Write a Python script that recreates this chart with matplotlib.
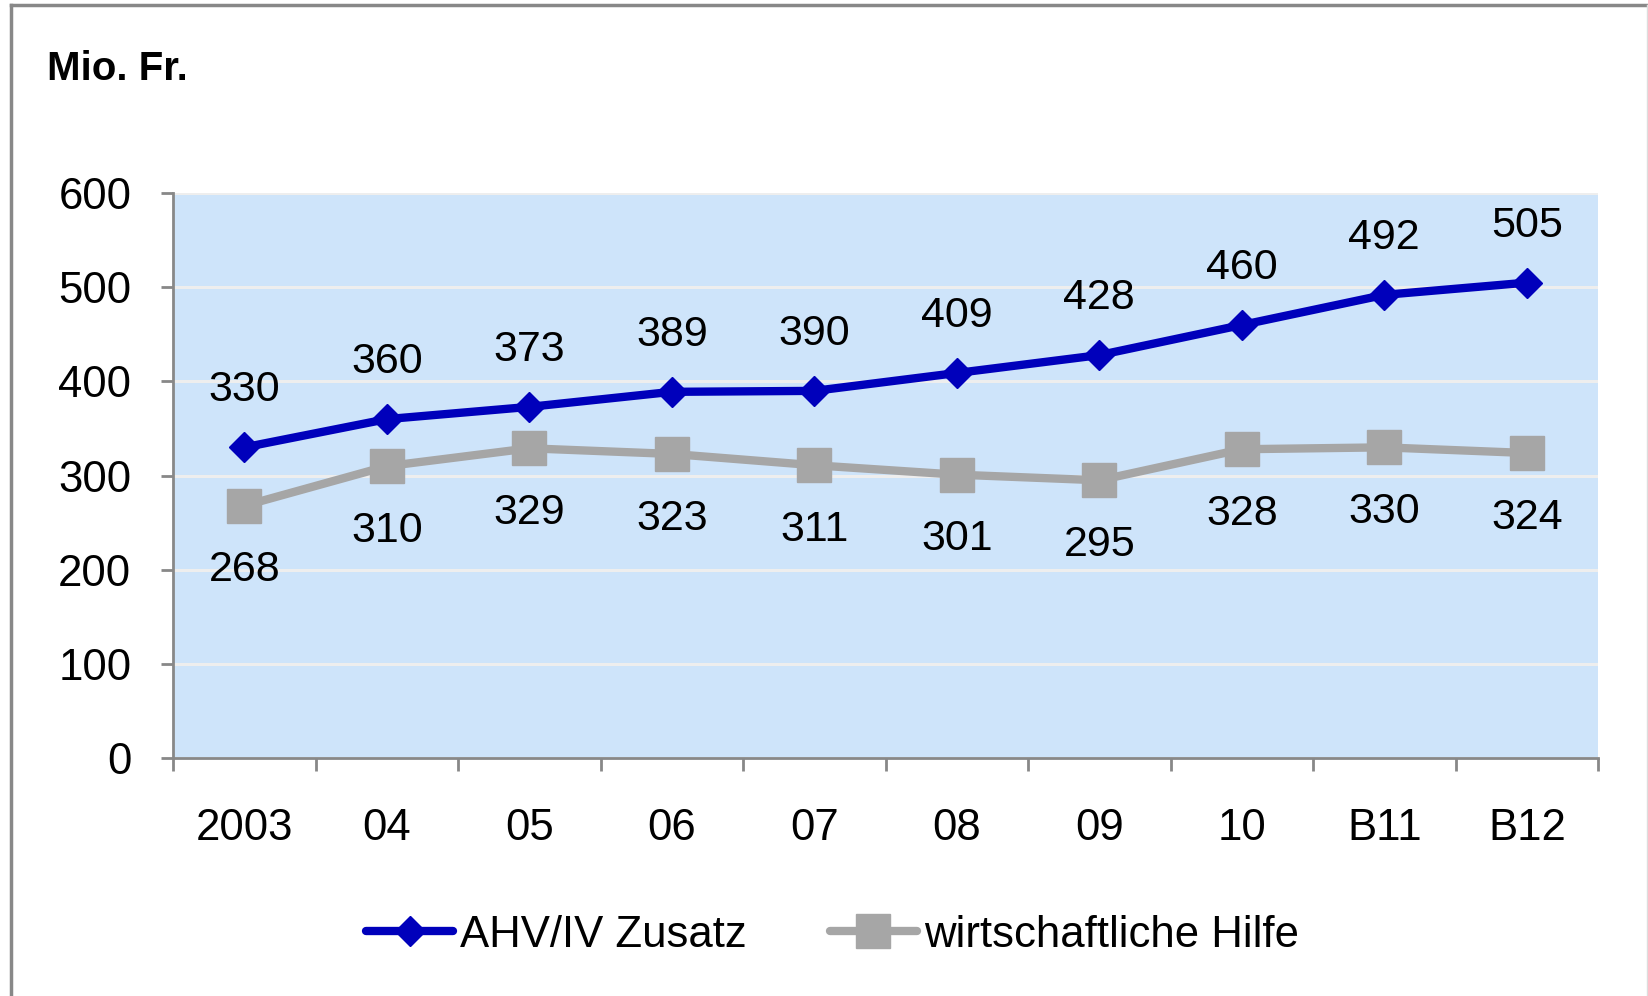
import matplotlib
matplotlib.use("Agg")
import matplotlib.pyplot as plt
from matplotlib.lines import Line2D

categories = ["2003", "04", "05", "06", "07", "08", "09", "10", "B11", "B12"]
ahv = [330, 360, 373, 389, 390, 409, 428, 460, 492, 505]
hilfe = [268, 310, 329, 323, 311, 301, 295, 328, 330, 324]
yticks = [0, 100, 200, 300, 400, 500, 600]

plt.rcParams["font.family"] = ["Liberation Sans", "DejaVu Sans"]
fs = 31.5

fig = plt.figure(figsize=(16.48, 9.96), dpi=100)
ax = fig.add_axes([0.105, 0.239, 0.8647, 0.567])
ax.set_facecolor("#cee4fa")

x = list(range(len(categories)))
ax.plot(x, ahv, color="#0000bb", lw=6, marker="D", ms=15, mec="#0000bb",
        label="AHV/IV Zusatz", zorder=4, solid_capstyle="round")
ax.plot(x, hilfe, color="#a6a6a6", lw=6, marker="s", ms=25, mec="#a6a6a6",
        label="wirtschaftliche Hilfe", zorder=3, solid_capstyle="round")

for xi, v in zip(x, ahv):
    ax.annotate(str(v), (xi, v), xytext=(0, 41), textcoords="offset points",
                ha="center", va="center", fontsize=31, zorder=5)
for xi, v in zip(x, hilfe):
    ax.annotate(str(v), (xi, v), xytext=(0, -46.5), textcoords="offset points",
                ha="center", va="center", fontsize=31, zorder=5)

ax.set_xlim(-0.5, len(categories) - 0.5)
ax.set_ylim(0, 600)
ax.set_yticks(yticks)
ax.set_yticklabels([str(t) for t in yticks], fontsize=fs)
ax.yaxis.grid(True, color="#eeeeee", lw=2.2)
ax.set_axisbelow(True)

ax.set_xticks([i - 0.5 for i in range(len(categories) + 1)])
ax.set_xticklabels([])
ax.set_xticks(x, minor=True)
ax.set_xticklabels(categories, minor=True, fontsize=fs)
ax.tick_params(axis="x", which="minor", length=0, pad=36)
ax.tick_params(axis="x", which="major", length=9, width=2, color="#888888")
ax.tick_params(axis="y", length=9, width=2, color="#888888", pad=21)

for s in ["top", "right"]:
    ax.spines[s].set_visible(False)
for s in ["left", "bottom"]:
    ax.spines[s].set_color("#888888")
    ax.spines[s].set_linewidth(2)

fig.text(0.0285, 0.92, "Mio. Fr.", fontsize=29, fontweight="bold", va="baseline")

fig.legend(loc="center", bbox_to_anchor=(0.505, 0.061), ncol=2, frameon=False,
           fontsize=fs, handlelength=2.0, handletextpad=0.15, columnspacing=1.9,
           numpoints=1)

# outer frame
fig.add_artist(Line2D([11 / 1648, 1], [1 - 5 / 996, 1 - 5 / 996],
                      transform=fig.transFigure, color="#888888", lw=2.5))
fig.add_artist(Line2D([11 / 1648, 11 / 1648], [0, 1 - 5 / 996],
                      transform=fig.transFigure, color="#888888", lw=2.5))
fig.add_artist(Line2D([1646.5 / 1648, 1646.5 / 1648], [0, 1 - 5 / 996],
                      transform=fig.transFigure, color="#dddddd", lw=1))

fig.savefig("out.png", dpi=100)
